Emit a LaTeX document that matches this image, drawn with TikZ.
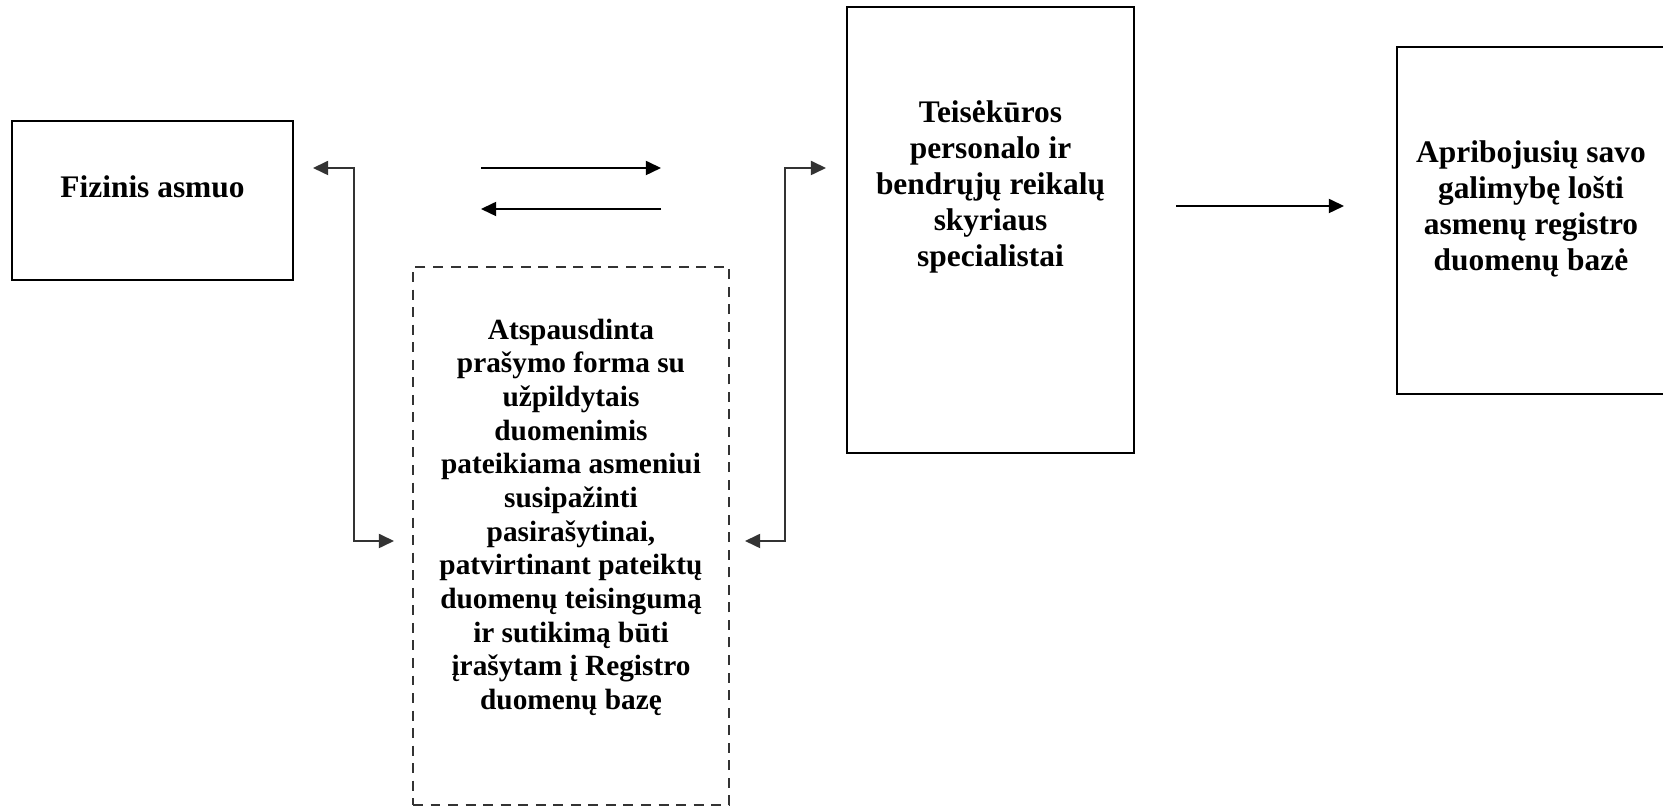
\documentclass[tikz,border=0pt]{standalone}
\usepackage{fontspec}
\setmainfont{Liberation Serif}
\usepackage{xcolor}
\usepackage{tikz}
\usetikzlibrary{positioning,calc}
\usetikzlibrary{arrows.meta}
\definecolor{linkgray}{HTML}{333333}
\newcommand{\pu}{0.382pt}

\begin{document}
\begin{tikzpicture}[x=0.382pt,y=-0.382pt,every node/.style={inner sep=0pt},frame/.style={rectangle,draw,line width=0.75pt},dashframe/.style={frame,draw=linkgray,dash pattern=on 3.8pt off 2.9pt},txt/.style={anchor=north,align=center,font=\fontsize{12}{13.8}\selectfont\bfseries},>={Triangle[length=5.8pt,width=5.4pt]},link/.style={draw,line width=0.65pt,->},elbow/.style={draw=linkgray,line width=0.7pt,<->}]
	\useasboundingbox (0,0) rectangle (1663,806);
	\clip (0,0) rectangle (1663,806);
	% boxes
	\node[frame,minimum width=281*\pu,minimum height=159*\pu] (fiz) at (152.5,200.5) {};
	\node[dashframe,minimum width=316*\pu,minimum height=538*\pu] (form) at (571,536) {};
	\node[frame,minimum width=287*\pu,minimum height=446*\pu] (spec) at (990.5,230) {};
	\node[frame,minimum width=271*\pu,minimum height=347*\pu] (reg) at (1532.5,220.5) {};
	% texts
	\node[txt] (fiz_text) at (152.5,175) {Fizinis asmuo};
	\node[txt,font=\fontsize{11.2}{12.85}\selectfont\bfseries] (form_text) at (571,318.5) {Atspausdinta\\prašymo forma su\\užpildytais\\duomenimis\\pateikiama asmeniui\\susipažinti\\pasirašytinai,\\patvirtinant pateiktų\\duomenų teisingumą\\ir sutikimą būti\\įrašytam į Registro\\duomenų bazę};
	\node[txt] (spec_text) at (990.5,100) {Teisėkūros\\personalo ir\\bendrųjų reikalų\\skyriaus\\specialistai};
	\node[txt] (reg_text) at (1531,140) {Apribojusių savo\\galimybę lošti\\asmenų registro\\duomenų bazė};
	% arrow ends
	\coordinate (fiz_in) at (313,168);
	\coordinate (form_l) at (394,541);
	\coordinate (form_r) at (745,541);
	\coordinate (spec_in) at (826,168);
	\coordinate (go_a) at (481,168);
	\coordinate (go_b) at (661,168);
	\coordinate (back_a) at (661,209);
	\coordinate (back_b) at (481,209);
	\coordinate (out_a) at (1176,206);
	\coordinate (out_b) at (1344,206);
	% connectors
	\draw[elbow] (fiz_in) -- ++(41,0) |- (form_l);
	\draw[elbow] (form_r) -- ++(40,0) |- (spec_in);
	\draw[link] (go_a) -- (go_b);
	\draw[link] (back_a) -- (back_b);
	\draw[link] (out_a) -- (out_b);
\end{tikzpicture}
\end{document}
